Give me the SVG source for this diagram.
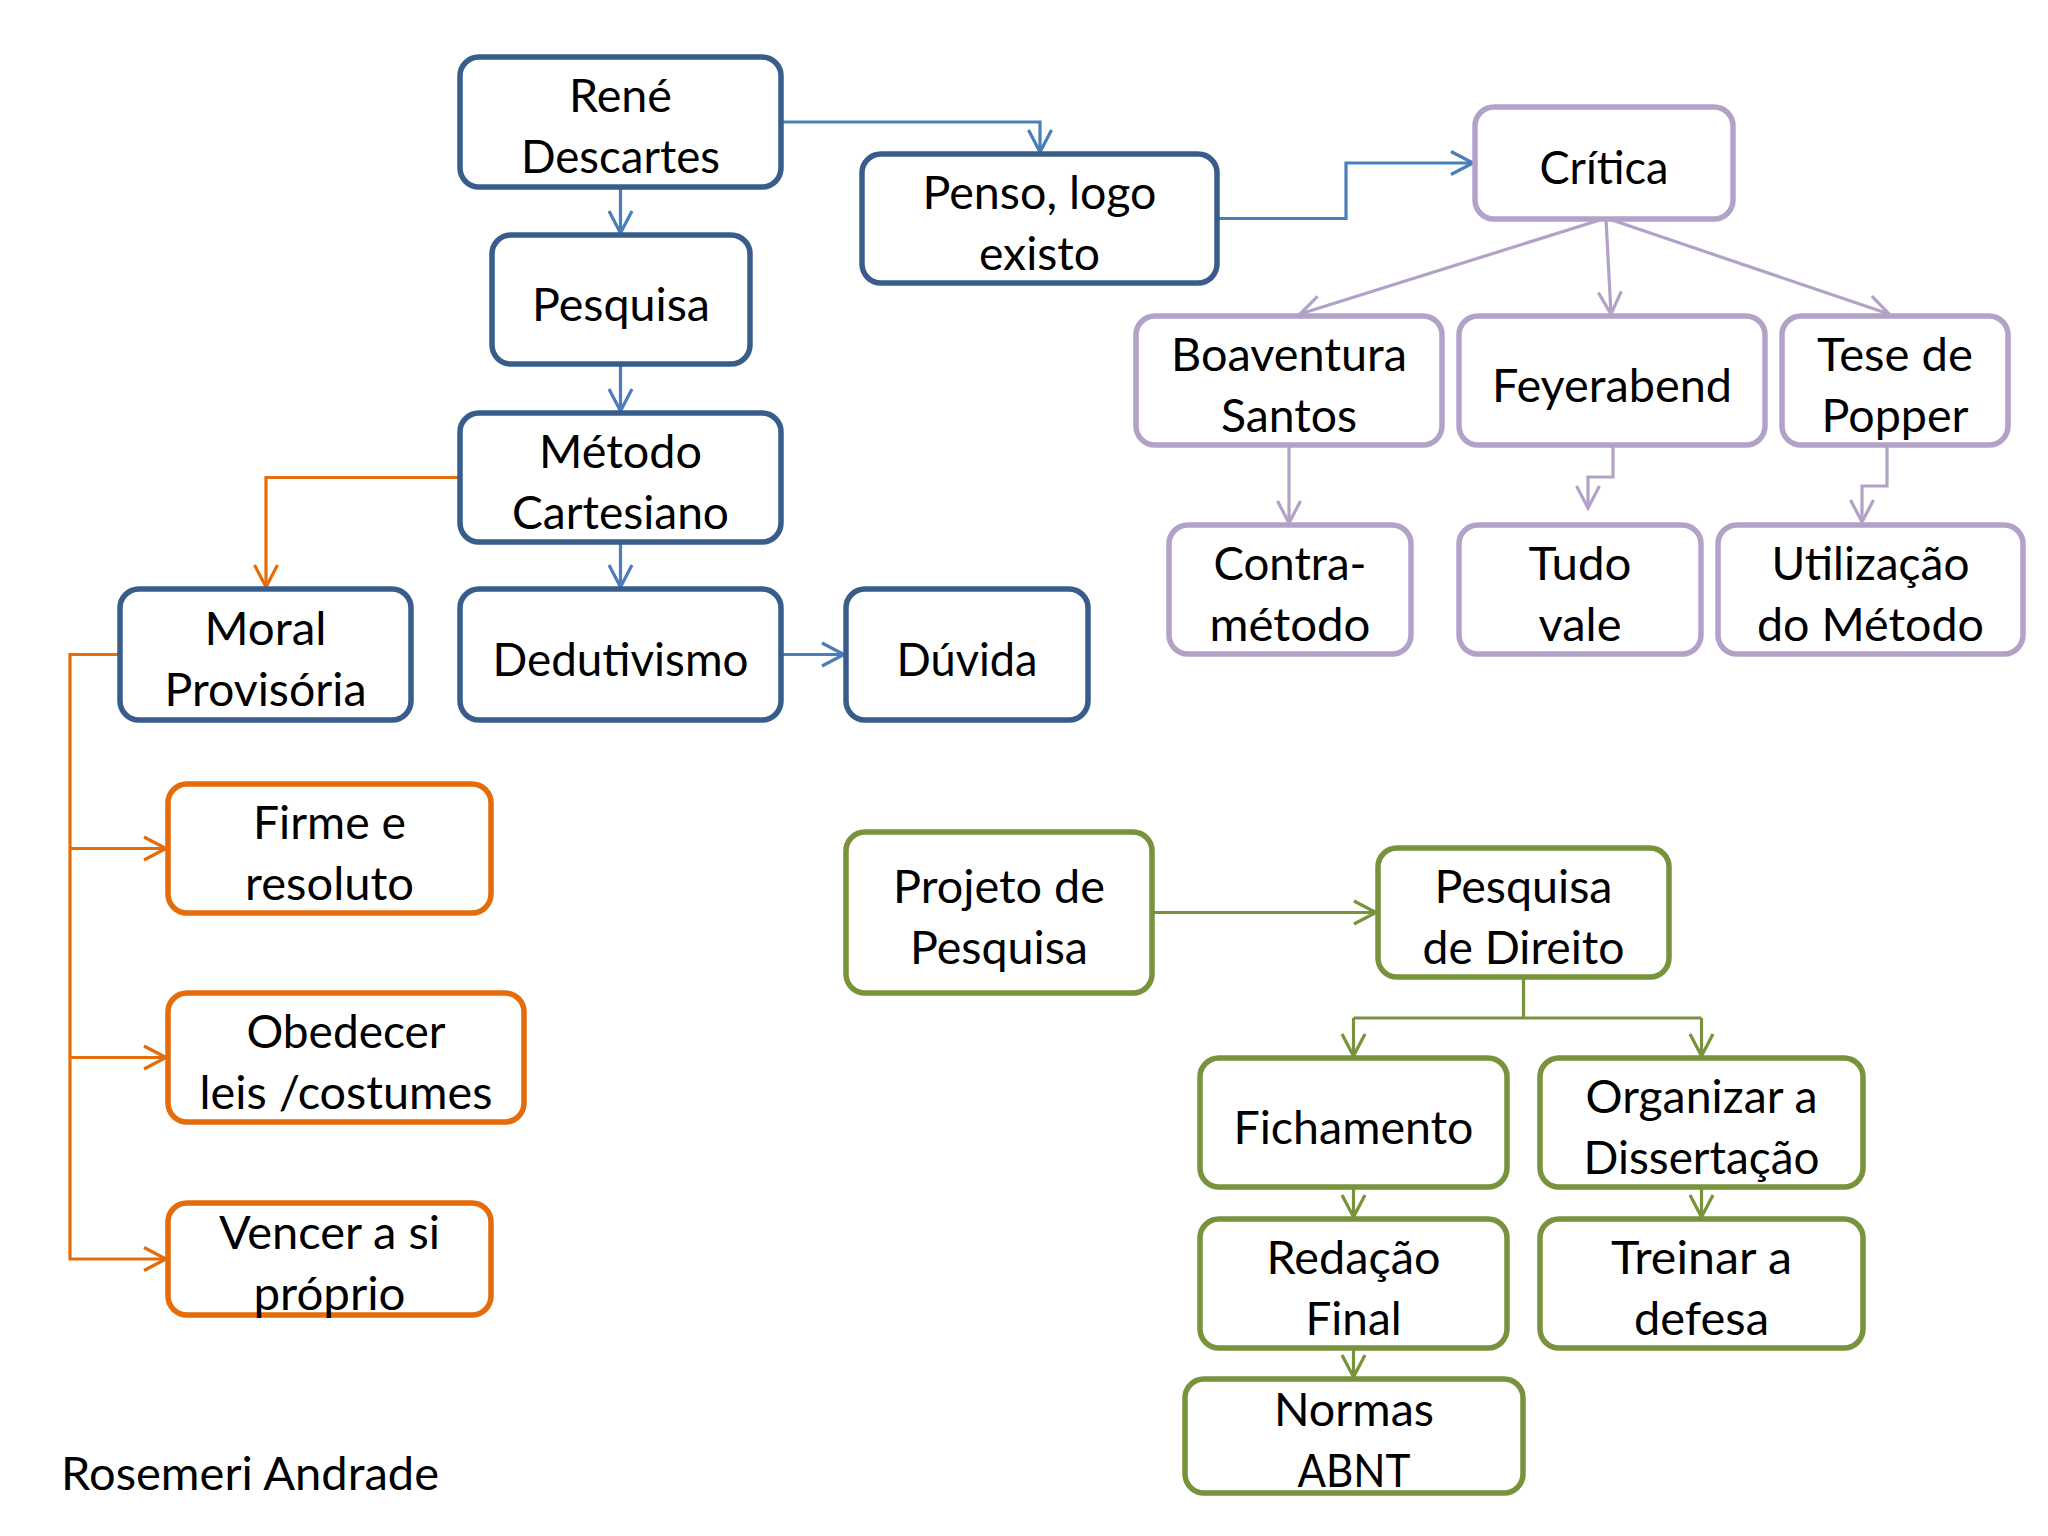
<svg xmlns="http://www.w3.org/2000/svg" width="2048" height="1536" viewBox="0 0 2048 1536">
<style>
.n rect{fill:#ffffff;stroke-width:5.5}
.b rect{stroke:#385D8A}
.p rect{stroke:#B3A2C7}
.o rect{stroke:#E46C0A}
.g rect{stroke:#77933C}
text{font-family:Lato,"Open Sans","Liberation Sans",sans-serif;font-size:46px;fill:#000;text-anchor:middle}
.c path{fill:none;stroke-width:3.2}
.cb path{stroke:#4A7EBB}
.cp path{stroke:#B3A2C7}
.co path{stroke:#E46C0A}
.cg path{stroke:#77933C}
</style>
<defs>
<marker id="aB" markerUnits="userSpaceOnUse" viewBox="-26 -15 30 30" markerWidth="30" markerHeight="30" refX="0" refY="0" orient="auto" overflow="visible"><path d="M-22,-11.5 L0,0 L-22,11.5" fill="none" stroke="#4A7EBB" stroke-width="3.2"/></marker>
<marker id="aP" markerUnits="userSpaceOnUse" viewBox="-26 -15 30 30" markerWidth="30" markerHeight="30" refX="0" refY="0" orient="auto" overflow="visible"><path d="M-22,-11.5 L0,0 L-22,11.5" fill="none" stroke="#B3A2C7" stroke-width="3.2"/></marker>
<marker id="aO" markerUnits="userSpaceOnUse" viewBox="-26 -15 30 30" markerWidth="30" markerHeight="30" refX="0" refY="0" orient="auto" overflow="visible"><path d="M-22,-11.5 L0,0 L-22,11.5" fill="none" stroke="#E46C0A" stroke-width="3.2"/></marker>
<marker id="aG" markerUnits="userSpaceOnUse" viewBox="-26 -15 30 30" markerWidth="30" markerHeight="30" refX="0" refY="0" orient="auto" overflow="visible"><path d="M-22,-11.5 L0,0 L-22,11.5" fill="none" stroke="#77933C" stroke-width="3.2"/></marker>
</defs>
<rect width="2048" height="1536" fill="#ffffff"/>

<g id="connectors" class="c">
<g class="cb">
<path d="M781,122 H1040 V152" marker-end="url(#aB)"/>
<path d="M620.5,187 V233" marker-end="url(#aB)"/>
<path d="M620.5,364 V411" marker-end="url(#aB)"/>
<path d="M620.5,542 V587" marker-end="url(#aB)"/>
<path d="M781,654.5 H844" marker-end="url(#aB)"/>
<path d="M1217,218.5 H1346 V163 H1473" marker-end="url(#aB)"/>
</g>
<g class="co">
<path d="M460,477.5 H266 V587" marker-end="url(#aO)"/>
<path d="M120,654.5 H70 V1259 H166" marker-end="url(#aO)"/>
<path d="M70,848.5 H166" marker-end="url(#aO)"/>
<path d="M70,1057.5 H166" marker-end="url(#aO)"/>
</g>
<g class="cp">
<path d="M1603,219 L1300,314" marker-end="url(#aP)"/>
<path d="M1606,219 L1611,314" marker-end="url(#aP)"/>
<path d="M1609,219 L1889,314" marker-end="url(#aP)"/>
<path d="M1289,445 V523" marker-end="url(#aP)"/>
<path d="M1613,445 V477 H1588 V508" marker-end="url(#aP)"/>
<path d="M1887,445 V486 H1862 V522" marker-end="url(#aP)"/>
</g>
<g class="cg">
<path d="M1152,912.5 H1376" marker-end="url(#aG)"/>
<path d="M1523.5,977 V1018"/>
<path d="M1353.5,1018 H1701.5"/>
<path d="M1353.5,1018 V1056" marker-end="url(#aG)"/>
<path d="M1701.5,1018 V1056" marker-end="url(#aG)"/>
<path d="M1353.5,1187 V1217" marker-end="url(#aG)"/>
<path d="M1701.5,1187 V1217" marker-end="url(#aG)"/>
<path d="M1353.5,1348 V1377" marker-end="url(#aG)"/>
</g>
</g>

<g id="rene" class="n b"><rect x="460" y="57" width="321" height="130" rx="19"/><text x="620.5" y="112" textLength="103" lengthAdjust="spacingAndGlyphs">René</text><text x="620.5" y="173" textLength="199" lengthAdjust="spacingAndGlyphs">Descartes</text></g>
<g id="penso" class="n b"><rect x="862" y="154" width="355" height="129" rx="19"/><text x="1039.5" y="208.5" textLength="234" lengthAdjust="spacingAndGlyphs">Penso, logo</text><text x="1039.5" y="269.5" textLength="121" lengthAdjust="spacingAndGlyphs">existo</text></g>
<g id="pesquisa" class="n b"><rect x="492" y="235" width="258" height="129" rx="19"/><text x="621" y="320.5" textLength="178" lengthAdjust="spacingAndGlyphs">Pesquisa</text></g>
<g id="metodo" class="n b"><rect x="460" y="413" width="321" height="129" rx="19"/><text x="620.5" y="467.5" textLength="163" lengthAdjust="spacingAndGlyphs">Método</text><text x="620.5" y="528.5" textLength="217" lengthAdjust="spacingAndGlyphs">Cartesiano</text></g>
<g id="moral" class="n b"><rect x="120" y="589" width="291" height="131" rx="19"/><text x="265.5" y="644.5" textLength="122" lengthAdjust="spacingAndGlyphs">Moral</text><text x="265.5" y="705.5" textLength="202" lengthAdjust="spacingAndGlyphs">Provisória</text></g>
<g id="dedutivismo" class="n b"><rect x="460" y="589" width="321" height="131" rx="19"/><text x="620.5" y="675.5" textLength="256" lengthAdjust="spacingAndGlyphs">Dedutivismo</text></g>
<g id="duvida" class="n b"><rect x="846" y="589" width="242" height="131" rx="19"/><text x="967" y="675.5" textLength="141" lengthAdjust="spacingAndGlyphs">Dúvida</text></g>

<g id="critica" class="n p"><rect x="1475" y="107" width="258" height="112" rx="19"/><text x="1604" y="184" textLength="129" lengthAdjust="spacingAndGlyphs">Crítica</text></g>
<g id="boaventura" class="n p"><rect x="1136" y="316" width="306" height="129" rx="19"/><text x="1289" y="370.5" textLength="236" lengthAdjust="spacingAndGlyphs">Boaventura</text><text x="1289" y="431.5" textLength="136" lengthAdjust="spacingAndGlyphs">Santos</text></g>
<g id="feyerabend" class="n p"><rect x="1459" y="316" width="306" height="129" rx="19"/><text x="1612" y="401.5" textLength="240" lengthAdjust="spacingAndGlyphs">Feyerabend</text></g>
<g id="popper" class="n p"><rect x="1782" y="316" width="226" height="129" rx="19"/><text x="1895" y="370.5" textLength="156" lengthAdjust="spacingAndGlyphs">Tese de</text><text x="1895" y="431.5" textLength="147" lengthAdjust="spacingAndGlyphs">Popper</text></g>
<g id="contra" class="n p"><rect x="1169" y="525" width="242" height="129" rx="19"/><text x="1290" y="579.5" textLength="153" lengthAdjust="spacingAndGlyphs">Contra-</text><text x="1290" y="640.5" textLength="161" lengthAdjust="spacingAndGlyphs">método</text></g>
<g id="tudo" class="n p"><rect x="1459" y="525" width="242" height="129" rx="19"/><text x="1580" y="579.5" textLength="103" lengthAdjust="spacingAndGlyphs">Tudo</text><text x="1580" y="640.5" textLength="83" lengthAdjust="spacingAndGlyphs">vale</text></g>
<g id="utilizacao" class="n p"><rect x="1718" y="525" width="305" height="129" rx="19"/><text x="1870.5" y="579.5" textLength="198" lengthAdjust="spacingAndGlyphs">Utilização</text><text x="1870.5" y="640.5" textLength="227" lengthAdjust="spacingAndGlyphs">do Método</text></g>

<g id="firme" class="n o"><rect x="168" y="784" width="323" height="129" rx="19"/><text x="329.5" y="838.5" textLength="153" lengthAdjust="spacingAndGlyphs">Firme e</text><text x="329.5" y="899.5" textLength="169" lengthAdjust="spacingAndGlyphs">resoluto</text></g>
<g id="obedecer" class="n o"><rect x="168" y="993" width="356" height="129" rx="19"/><text x="346" y="1047.5" textLength="199" lengthAdjust="spacingAndGlyphs">Obedecer</text><text x="346" y="1108.5" textLength="293" lengthAdjust="spacingAndGlyphs">leis /costumes</text></g>
<g id="vencer" class="n o"><rect x="168" y="1203" width="323" height="112" rx="19"/><text x="329.5" y="1249" textLength="221" lengthAdjust="spacingAndGlyphs">Vencer a si</text><text x="329.5" y="1310" textLength="152" lengthAdjust="spacingAndGlyphs">próprio</text></g>

<g id="projeto" class="n g"><rect x="846" y="832" width="306" height="161" rx="19"/><text x="999" y="902.5" textLength="212" lengthAdjust="spacingAndGlyphs">Projeto de</text><text x="999" y="963.5" textLength="178" lengthAdjust="spacingAndGlyphs">Pesquisa</text></g>
<g id="pesquisa-direito" class="n g"><rect x="1378" y="848" width="291" height="129" rx="19"/><text x="1523.5" y="902.5" textLength="178" lengthAdjust="spacingAndGlyphs">Pesquisa</text><text x="1523.5" y="963.5" textLength="202" lengthAdjust="spacingAndGlyphs">de Direito</text></g>
<g id="fichamento" class="n g"><rect x="1200" y="1058" width="307" height="129" rx="19"/><text x="1353.5" y="1143.5" textLength="240" lengthAdjust="spacingAndGlyphs">Fichamento</text></g>
<g id="organizar" class="n g"><rect x="1540" y="1058" width="323" height="129" rx="19"/><text x="1701.5" y="1112.5" textLength="232" lengthAdjust="spacingAndGlyphs">Organizar a</text><text x="1701.5" y="1173.5" textLength="236" lengthAdjust="spacingAndGlyphs">Dissertação</text></g>
<g id="redacao" class="n g"><rect x="1200" y="1219" width="307" height="129" rx="19"/><text x="1353.5" y="1273.5" textLength="174" lengthAdjust="spacingAndGlyphs">Redação</text><text x="1353.5" y="1334.5" textLength="96" lengthAdjust="spacingAndGlyphs">Final</text></g>
<g id="treinar" class="n g"><rect x="1540" y="1219" width="323" height="129" rx="19"/><text x="1701.5" y="1273.5" textLength="181" lengthAdjust="spacingAndGlyphs">Treinar a</text><text x="1701.5" y="1334.5" textLength="135" lengthAdjust="spacingAndGlyphs">defesa</text></g>
<g id="normas" class="n g"><rect x="1185" y="1379" width="338" height="114" rx="19"/><text x="1354" y="1426" textLength="160" lengthAdjust="spacingAndGlyphs">Normas</text><text x="1354" y="1487" textLength="113" lengthAdjust="spacingAndGlyphs">ABNT</text></g>

<text id="author" x="61" y="1490" style="text-anchor:start" textLength="378" lengthAdjust="spacingAndGlyphs">Rosemeri Andrade</text>
</svg>
